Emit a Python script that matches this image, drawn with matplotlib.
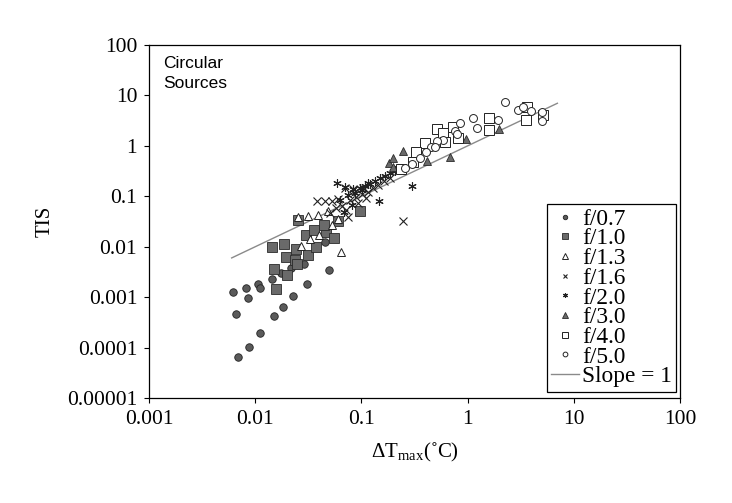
import numpy as np
import matplotlib
matplotlib.use('Agg')
import matplotlib.pyplot as plt

plt.rcParams['font.family'] = 'Liberation Serif'
plt.rcParams['mathtext.fontset'] = 'custom'
plt.rcParams['mathtext.rm'] = 'Liberation Serif'

# f/0.7
x07 = [0.00614, 0.00815, 0.00855, 0.0107, 0.0111, 0.00659, 0.00689, 0.00869, 0.01117, 0.01503,
       0.01815, 0.0227, 0.0305, 0.0145, 0.0175, 0.0217, 0.029, 0.0499, 0.0457]
y07 = [0.00127, 0.00149, 0.00096, 0.00179, 0.00154, 0.00047, 0.0000655, 0.000101, 0.000198, 0.000425,
       0.00064, 0.00106, 0.00182, 0.00229, 0.00301, 0.00379, 0.00454, 0.00351, 0.0124]
# f/1.0
x10 = [0.0143, 0.0188, 0.0242, 0.0195, 0.0237, 0.0246, 0.01503, 0.0198, 0.0156, 0.0314,
       0.0373, 0.0301, 0.036, 0.0464, 0.0556, 0.0444, 0.0606, 0.097, 0.0253]
y10 = [0.00986, 0.01146, 0.0090, 0.00614, 0.00536, 0.00454, 0.00361, 0.0027, 0.00145, 0.00673,
       0.00986, 0.0173, 0.0217, 0.0192, 0.0146, 0.0273, 0.0327, 0.0516, 0.0343]
# f/1.3
x13 = [0.0251, 0.0316, 0.0388, 0.0482, 0.0401, 0.033, 0.027, 0.0525, 0.0638, 0.0602]
y13 = [0.038, 0.0411, 0.043, 0.050, 0.0173, 0.0141, 0.0105, 0.0273, 0.0077, 0.0358]
# f/1.6
x16 = [0.0379, 0.0454, 0.0525, 0.0606, 0.0753, 0.248, 0.0701, 0.0839, 0.1035, 0.0506, 0.0577, 0.0657,
       0.0781, 0.0889, 0.1013, 0.1153, 0.1286, 0.1433, 0.1633, 0.1858, 0.0716, 0.0929, 0.1105]
y16 = [0.0815, 0.0815, 0.0789, 0.0881, 0.0393, 0.0317, 0.1452, 0.141, 0.1452, 0.0471, 0.0592, 0.0649,
       0.0853, 0.0977, 0.112, 0.1228, 0.1474, 0.169, 0.2028, 0.2324, 0.054, 0.0743, 0.0933]
# f/2.0
x20 = [0.0585, 0.0701, 0.0839, 0.1006, 0.1161, 0.298, 0.1474, 0.0629, 0.0748, 0.0871, 0.097,
       0.1081, 0.1205, 0.1343, 0.1497, 0.1668, 0.1858, 0.207, 0.2213, 0.0815, 0.0686]
y20 = [0.1825, 0.1563, 0.139, 0.1345, 0.1825, 0.1614, 0.0815, 0.0853, 0.107, 0.1173, 0.1474,
       0.1614, 0.177, 0.2028, 0.2324, 0.2547, 0.2918, 0.3198, 0.3666, 0.0679, 0.0493]
# f/3.0
x30 = [0.245, 0.183, 0.197, 0.1997, 0.418, 0.682, 0.966, 1.99]
y30 = [0.807, 0.454, 0.570, 0.389, 0.512, 0.614, 1.374, 2.14]
# f/4.0
x40 = [0.512, 0.590, 0.733, 0.817, 0.612, 0.397, 0.327, 0.308, 0.234, 1.60, 1.60, 3.60, 3.55, 5.16]
y40 = [2.14, 1.78, 2.41, 1.42, 1.22, 1.13, 0.771, 0.489, 0.346, 3.53, 2.07, 6.0, 3.27, 4.11]
# f/5.0
x50 = [2.25, 1.13, 1.23, 1.93, 0.848, 0.761, 0.789, 0.583, 0.512, 0.449, 0.493, 0.406, 0.356,
       0.298, 0.257, 2.95, 3.33, 3.97, 4.99, 4.99]
y50 = [7.54, 3.53, 2.27, 3.27, 2.89, 2.01, 1.73, 1.31, 1.27, 0.969, 0.942, 0.771, 0.570,
       0.440, 0.361, 5.16, 5.78, 4.87, 4.71, 3.08]

slope_x = [0.006, 7]
slope_y = [0.006, 7]

xticks = [0.001, 0.01, 0.1, 1, 10, 100]
xlabels = ['0.001', '0.01', '0.1', '1', '10', '100']
yticks = [0.00001, 0.0001, 0.001, 0.01, 0.1, 1, 10, 100]
ylabels = ['0.00001', '0.0001', '0.001', '0.01', '0.1', '1', '10', '100']

fig = plt.figure(figsize=(7.32, 5.03), dpi=100)
ax = fig.add_axes([0.2036, 0.2087, 0.7254, 0.7018])

ax.plot(slope_x, slope_y, '-', color='#8a8a8a', lw=1.0, zorder=1, label='Slope = 1')

ms = 5.5
ax.plot(x07, y07, 'o', ms=5.4, mfc='#5a5a5a', mec='#222222', mew=0.6, label='f/0.7')
ax.plot(x10, y10, 's', ms=6.7, mfc='#6a6a6a', mec='#2a2a2a', mew=0.6, label='f/1.0')
ax.plot(x13, y13, '^', ms=6.3, mfc='white', mec='#222222', mew=0.7, label='f/1.3')
ax.plot(x16, y16, 'x', ms=ms, color='#222222', mew=0.8, label='f/1.6')
ax.plot(x20, y20, marker=(6, 2, 0), ls='none', ms=ms + 0.5, color='#222222', mew=0.8, label='f/2.0')
ax.plot(x30, y30, '^', ms=6.3, mfc='#6a6a6a', mec='#2a2a2a', mew=0.6, label='f/3.0')
ax.plot(x40, y40, 's', ms=6.7, mfc='white', mec='#222222', mew=0.7, label='f/4.0')
ax.plot(x50, y50, 'o', ms=5.7, mfc='white', mec='#222222', mew=0.7, label='f/5.0')

ax.set_xscale('log')
ax.set_yscale('log')
ax.set_xlim(0.001, 100)
ax.set_ylim(0.00001, 100)
ax.set_xticks(xticks)
ax.set_xticklabels(xlabels)
ax.set_yticks(yticks)
ax.set_yticklabels(ylabels)
ax.minorticks_off()
ax.tick_params(direction='out', length=3.5, width=0.8, labelsize=15.5, pad=5)
for s in ax.spines.values():
    s.set_linewidth(0.9)

ax.set_xlabel('ΔT$_{\\rm max}$(˚C)', fontsize=15, labelpad=9)
ax.set_ylabel('TIS', fontsize=15, labelpad=9)

ax.text(0.026, 0.968, 'Circular\nSources', transform=ax.transAxes, ha='left', va='top',
        fontsize=12.5, family='Liberation Sans', linespacing=1.4)

h, l = ax.get_legend_handles_labels()
h = h[1:] + h[:1]
l = l[1:] + l[:1]
leg = ax.legend(h, l, loc='lower right', bbox_to_anchor=(0.993, 0.017), borderaxespad=0,
                fontsize=16.8, labelspacing=-0.07, handlelength=1.2, handletextpad=0.1,
                borderpad=0.2, markerscale=0.6, fancybox=False, framealpha=1,
                edgecolor='black')
leg.get_frame().set_linewidth(0.9)

fig.savefig('out.png', dpi=100)
